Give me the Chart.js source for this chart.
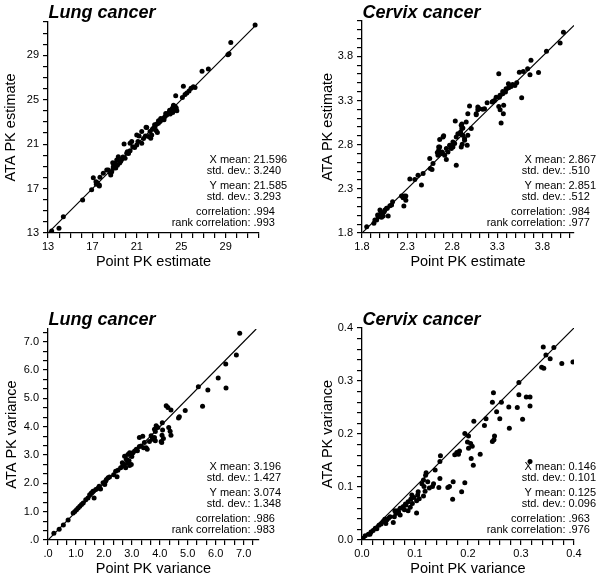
<!DOCTYPE html>
<html>
<head>
<meta charset="utf-8">
<script src="https://cdn.jsdelivr.net/npm/chart.js@4.4.1/dist/chart.umd.min.js"></script>
<style>
    html, body { margin: 0; padding: 0; background: #fff; }
    #wrap { position: relative; width: 600px; height: 579px; }
    #wrap canvas { position: absolute; }
</style>
</head>
<body>
<div id="wrap">
    <canvas id="lungEst" width="300" height="290" style="left:0;top:0"></canvas>
    <canvas id="cervixEst" width="300" height="290" style="left:300px;top:0"></canvas>
    <canvas id="lungVar" width="300" height="289" style="left:0;top:290px"></canvas>
    <canvas id="cervixVar" width="300" height="289" style="left:300px;top:290px"></canvas>
</div>
<script>
// --- 資料 (從圖上讀出的估計值) ---

// Lung cancer: point PK estimate (x) vs ATA PK estimate (y)
const lungEstX = [31.65, 29.46, 29.30, 29.20, 27.44, 26.87, 25.19, 26.09, 25.88, 26.24, 25.70, 25.50, 25.34, 25.10, 24.50,
    24.30, 24.35, 24.23, 24.00, 24.20, 23.84, 23.69, 23.54, 23.39, 23.24, 23.09, 22.94, 22.79, 22.64, 22.49,
    22.73, 22.85, 22.34, 22.19, 22.04, 21.89, 21.77, 22.25, 21.44, 21.44, 21.83, 20.99, 20.63, 19.85, 20.39,
    20.09, 19.94, 19.64, 19.33, 19.19, 19.04, 18.88, 18.83, 18.74, 18.65, 18.29, 17.98, 17.44, 17.08, 17.62,
    16.93, 16.12, 14.38, 13.99, 13.33, 20.99, 21.20, 20.54, 20.39, 20.14, 19.55, 19.25, 18.88, 18.60, 18.43,
    17.68, 17.62, 17.35, 17.32, 23.95, 24.45, 24.55, 23.60, 23.15, 22.95, 23.45, 22.60, 22.40, 21.60, 21.10,
    20.80, 20.25, 19.75, 19.45, 19.10, 18.95, 24.60, 24.40];
const lungEstY = [31.72, 30.16, 29.15, 29.05, 27.76, 27.57, 26.21, 26.18, 26.04, 26.10, 25.79, 25.60, 25.48, 25.20, 25.35,
    24.50, 24.10, 23.84, 23.72, 24.23, 23.81, 23.63, 23.48, 23.33, 23.18, 23.03, 22.88, 22.82, 22.58, 22.43,
    22.22, 22.04, 21.83, 22.13, 21.68, 22.49, 21.74, 21.53, 21.08, 22.13, 22.52, 20.93, 20.77, 21.02, 20.41,
    20.18, 19.73, 19.64, 19.87, 19.58, 19.28, 18.97, 19.33, 18.52, 18.23, 18.68, 18.38, 17.53, 17.98, 17.32,
    16.90, 15.97, 14.47, 13.42, 13.18, 21.83, 21.74, 21.23, 21.08, 20.32, 19.45, 19.10, 18.83, 18.45, 18.68,
    18.02, 17.23, 17.40, 17.62, 24.05, 24.40, 24.25, 23.75, 23.30, 23.10, 23.20, 22.75, 22.35, 21.50, 21.25,
    20.70, 20.15, 19.85, 19.30, 18.85, 19.15, 24.00, 24.30];

// Cervix cancer: point PK estimate (x) vs ATA PK estimate (y)
const cervixEstX = [4.033, 3.996, 3.845, 3.757, 3.673, 3.662, 3.636, 3.588, 3.544, 3.570, 3.515, 3.495, 3.470, 3.452, 3.426,
    3.423, 3.397, 3.390, 3.360, 3.360, 3.323, 3.330, 3.316, 3.331, 3.367, 3.370, 3.342, 3.316, 3.287, 3.268,
    3.250, 3.243, 3.187, 3.158, 3.139, 3.102, 3.084, 3.084, 3.066, 3.066, 2.992, 2.973, 3.011, 2.955, 2.918,
    2.882, 2.845, 2.808, 2.771, 2.735, 2.834, 2.907, 2.705, 2.661, 2.937, 2.911, 2.966, 2.900, 2.661, 2.654,
    2.680, 2.642, 2.735, 2.845, 2.551, 2.587, 2.558, 2.477, 2.459, 2.421, 2.385, 2.330, 2.286, 2.256, 2.286,
    2.264, 2.139, 2.109, 2.080, 2.054, 2.090, 1.999, 1.992, 1.980, 1.962, 1.932, 1.852, 2.900, 2.907, 2.893,
    2.863, 2.918, 2.937, 2.973, 2.827, 2.808, 2.790, 2.753, 2.716, 2.650, 2.650, 2.635, 2.687, 2.698, 2.576,
    2.267, 2.238, 2.128, 2.072, 2.046, 2.017, 1.999, 1.973, 1.943, 2.017, 2.035, 2.010, 2.025];
const cervixEstY = [4.072, 3.952, 3.858, 3.617, 3.757, 3.592, 3.659, 3.628, 3.620, 3.330, 3.500, 3.470, 3.480, 3.459, 3.444,
    3.490, 3.433, 3.395, 3.377, 3.403, 3.338, 3.360, 3.603, 3.196, 3.151, 3.245, 3.045, 3.233, 3.338, 3.301,
    3.290, 3.282, 3.275, 3.207, 3.200, 3.207, 3.226, 3.196, 3.151, 3.140, 3.238, 3.151, 2.982, 3.056, 2.989,
    2.925, 2.887, 2.831, 2.793, 2.756, 3.068, 3.034, 2.900, 2.859, 2.850, 2.805, 2.793, 2.774, 2.774, 2.717,
    2.700, 2.680, 2.632, 2.567, 2.643, 2.587, 2.530, 2.474, 2.342, 2.455, 2.406, 2.410, 2.218, 2.198, 2.172,
    2.105, 2.153, 2.108, 2.079, 2.060, 1.992, 2.060, 2.003, 1.984, 1.947, 1.909, 1.871, 3.019, 2.982, 2.944,
    2.925, 2.906, 2.869, 2.906, 2.812, 2.774, 2.756, 2.717, 2.680, 2.774, 2.737, 2.711, 2.717, 2.887, 2.519,
    2.218, 2.218, 2.116, 2.079, 2.040, 2.022, 1.984, 2.003, 1.947, 1.977, 1.992, 2.030, 2.005];

// Lung cancer: point PK variance (x) vs ATA PK variance (y)
const lungVarX = [6.86, 6.74, 6.36, 6.09, 6.37, 5.72, 5.38, 5.53, 4.91, 4.70, 4.67, 4.23, 4.29, 4.40, 4.09,
    3.93, 3.87, 3.81, 3.84, 4.32, 4.37, 4.40, 4.10, 4.08, 4.05, 4.13, 4.07, 3.81, 3.73, 3.84,
    3.63, 3.69, 3.39, 3.27, 3.45, 3.33, 3.42, 3.51, 3.55, 3.27, 3.16, 3.10, 3.04, 2.98, 2.92,
    2.86, 2.74, 2.80, 2.86, 2.92, 2.98, 2.74, 2.68, 2.78, 2.66, 2.50, 2.42, 2.47, 2.15, 2.09,
    2.06, 1.97, 2.03, 1.83, 1.79, 1.71, 1.61, 1.55, 1.49, 1.65, 1.43, 1.35, 1.26, 1.20, 1.14,
    1.08, 1.02, 0.96, 0.90, 0.72, 0.55, 0.40, 0.21, 3.00, 2.90, 3.20, 2.60, 2.35, 1.88, 2.20];
const lungVarY = [7.30, 6.53, 6.21, 5.72, 5.37, 5.30, 5.41, 4.72, 4.57, 4.35, 4.31, 4.74, 4.68, 4.59, 4.14,
    3.97, 4.03, 3.91, 3.83, 3.97, 3.84, 3.70, 3.88, 3.70, 3.48, 3.58, 3.44, 3.62, 3.56, 3.50,
    3.48, 3.68, 3.66, 3.62, 3.44, 3.32, 3.26, 3.26, 3.20, 3.30, 3.20, 3.14, 3.08, 3.06, 3.08,
    3.02, 2.96, 2.85, 2.73, 2.63, 2.67, 2.67, 2.61, 2.55, 2.73, 2.46, 2.43, 2.23, 2.20, 2.14,
    2.07, 2.02, 1.96, 1.90, 1.83, 1.78, 1.72, 1.66, 1.60, 1.48, 1.48, 1.42, 1.31, 1.25, 1.19,
    1.13, 1.07, 1.01, 0.95, 0.71, 0.53, 0.38, 0.24, 2.95, 2.80, 3.15, 2.55, 2.30, 1.80, 2.22];

// Cervix cancer: point PK variance (x) vs ATA PK variance (y)
const cervixVarX = [0.398, 0.377, 0.362, 0.342, 0.347, 0.355, 0.339, 0.343, 0.296, 0.317, 0.296, 0.310, 0.317, 0.293, 0.303,
    0.277, 0.278, 0.317, 0.248, 0.246, 0.263, 0.254, 0.260, 0.234, 0.231, 0.250, 0.249, 0.246, 0.223, 0.211,
    0.194, 0.201, 0.205, 0.208, 0.201, 0.199, 0.206, 0.210, 0.179, 0.182, 0.175, 0.184, 0.172, 0.171, 0.188,
    0.194, 0.165, 0.162, 0.148, 0.147, 0.147, 0.145, 0.138, 0.135, 0.133, 0.127, 0.121, 0.120, 0.124, 0.116,
    0.113, 0.117, 0.119, 0.116, 0.106, 0.105, 0.108, 0.103, 0.103, 0.094, 0.092, 0.087, 0.082, 0.078, 0.095,
    0.091, 0.087, 0.080, 0.072, 0.067, 0.064, 0.072, 0.061, 0.059, 0.050, 0.047, 0.045, 0.040, 0.036, 0.032,
    0.069, 0.062, 0.053, 0.043, 0.028, 0.025, 0.021, 0.017, 0.015, 0.012, 0.006, 0.002, 0.083, 0.076, 0.098];
const cervixVarY = [0.336, 0.333, 0.363, 0.364, 0.349, 0.342, 0.326, 0.324, 0.297, 0.270, 0.274, 0.270, 0.253, 0.250, 0.228,
    0.251, 0.211, 0.148, 0.278, 0.260, 0.260, 0.242, 0.229, 0.229, 0.216, 0.196, 0.189, 0.186, 0.162, 0.224,
    0.201, 0.196, 0.182, 0.177, 0.173, 0.185, 0.154, 0.141, 0.165, 0.162, 0.161, 0.168, 0.110, 0.077, 0.091,
    0.108, 0.101, 0.099, 0.159, 0.148, 0.116, 0.099, 0.132, 0.106, 0.101, 0.098, 0.127, 0.122, 0.110, 0.113,
    0.106, 0.101, 0.092, 0.083, 0.091, 0.085, 0.078, 0.074, 0.051, 0.085, 0.077, 0.072, 0.068, 0.063, 0.069,
    0.062, 0.055, 0.057, 0.060, 0.055, 0.050, 0.047, 0.044, 0.033, 0.041, 0.038, 0.031, 0.035, 0.030, 0.028,
    0.053, 0.055, 0.044, 0.039, 0.021, 0.022, 0.018, 0.015, 0.011, 0.011, 0.008, 0.003, 0.066, 0.061, 0.080];

// 刻度標籤
const lungEstTicks = [13, 17, 21, 25, 29];
const lungEstTickLabels = ['13', '17', '21', '25', '29'];
const cervixEstTicks = [1.8, 2.3, 2.8, 3.3, 3.8];
const cervixEstTickLabels = ['1.8', '2.3', '2.8', '3.3', '3.8'];
const lungVarTicks = [0, 1, 2, 3, 4, 5, 6, 7];
const lungVarTickLabels = ['.0', '1.0', '2.0', '3.0', '4.0', '5.0', '6.0', '7.0'];
const cervixVarTicks = [0, 0.1, 0.2, 0.3, 0.4];
const cervixVarTickLabels = ['0.0', '0.1', '0.2', '0.3', '0.4'];

// 統計文字
const statLabels = ['X mean:', 'std. dev.:', 'Y mean:', 'std. dev.:', 'correlation:', 'rank correlation:'];
const lungEstStats = ['21.596', '3.240', '21.585', '3.293', '.994', '.993'];
const cervixEstStats = ['2.867', '.510', '2.851', '.512', '.984', '.977'];
const lungVarStats = ['3.196', '1.427', '3.074', '1.348', '.986', '.983'];
const cervixVarStats = ['0.146', '0.101', '0.125', '0.096', '.963', '.976'];

document.addEventListener('DOMContentLoaded', function () {

    const FONT = "'Liberation Sans', Arial, Helvetica, sans-serif";
    Chart.defaults.font.family = FONT;
    Chart.defaults.color = '#000';

    // 次刻度位置 (含主刻度)
    const minorTicks = (min, max, step) => {
        const out = [];
        for (let i = 0; ; i++) {
            const v = Math.round((min + i * step) * 1e6) / 1e6;
            if (v > max + 1e-9) break;
            out.push(v);
        }
        return out;
    };

    const axis = (min, max, majors, labels, step, isY, size) => ({
        type: 'linear',
        position: isY ? 'left' : 'bottom',
        min: min,
        max: max,
        grid: { drawOnChartArea: false, drawTicks: true, tickLength: 5, color: '#000', lineWidth: 1.2 },
        border: { display: true, color: '#000', width: 1.3 },
        ticks: {
            autoSkip: false,
            maxRotation: 0,
            padding: isY ? 4 : 2,
            color: '#000',
            font: { size: 11 },
            callback: (value) => {
                const i = majors.findIndex(m => Math.abs(m - value) < 1e-6);
                return i >= 0 ? labels[i] : '';
            }
        },
        afterBuildTicks: (scale) => {
            scale.ticks = minorTicks(min, max, step).map(v => ({ value: v }));
        },
        afterFit: (scale) => {
            if (isY) scale.width = size; else scale.height = size;
        }
    });

    // 標題、軸標題與統計文字
    const panelText = {
        id: 'panelText',
        afterDraw(chart, args, o) {
            const { ctx, chartArea: a } = chart;
            ctx.save();
            ctx.fillStyle = '#000';
            ctx.textBaseline = 'alphabetic';

            ctx.font = 'italic bold 18px ' + FONT;
            ctx.textAlign = 'left';
            ctx.fillText(o.title, a.left + 0.5, a.top - o.titleGap);

            ctx.font = '14.5px ' + FONT;
            ctx.textAlign = 'center';
            ctx.fillText(o.xTitle, (a.left + a.right) / 2, a.bottom + 33);
            ctx.save();
            ctx.translate(a.left - o.yTitleGap, (a.top + a.bottom) / 2);
            ctx.rotate(-Math.PI / 2);
            ctx.fillText(o.yTitle, 0, 0);
            ctx.restore();

            ctx.font = '11px ' + FONT;
            const offsets = [-70, -59.5, -44.5, -33.5, -18, -7];
            const vx = a.right - 5.5;
            statLabels.forEach((lab, i) => {
                const y = a.bottom + offsets[i];
                ctx.textAlign = 'right';
                ctx.fillText(lab, vx - 3, y);
                ctx.textAlign = 'left';
                ctx.fillText(o.stats[i], vx, y);
            });
            ctx.restore();
        }
    };

    const makePanel = (p) => {
        const points = p.xs.map((x, i) => ({ x: x, y: p.ys[i] }));
        new Chart(document.getElementById(p.id), {
            type: 'scatter',
            data: {
                datasets: [
                    {
                        data: points,
                        pointRadius: 2.5,
                        pointBackgroundColor: '#000',
                        pointBorderWidth: 0,
                        showLine: false
                    },
                    {
                        data: [{ x: p.line[0], y: p.line[0] }, { x: p.line[1], y: p.line[1] }],
                        showLine: true,
                        borderColor: '#000',
                        borderWidth: 1.2,
                        pointRadius: 0,
                        fill: false
                    }
                ]
            },
            options: {
                responsive: false,
                animation: false,
                events: [],
                layout: { padding: { left: 0, top: p.area.top, right: p.canvasW - p.area.right, bottom: 0 } },
                scales: {
                    x: axis(p.xRange[0], p.xRange[1], p.ticks, p.tickLabels, p.step, false, p.canvasH - p.area.bottom),
                    y: axis(p.yRange[0], p.yRange[1], p.ticks, p.tickLabels, p.step, true, p.area.left)
                },
                plugins: {
                    legend: { display: false },
                    tooltip: { enabled: false },
                    panelText: {
                        title: p.title, xTitle: p.xTitle, yTitle: p.yTitle, stats: p.stats,
                        titleGap: p.titleGap, yTitleGap: p.yTitleGap
                    }
                }
            },
            plugins: [panelText]
        });
    };

    makePanel({
        id: 'lungEst', xs: lungEstX, ys: lungEstY, xRange: [13, 32], yRange: [13, 32], line: [13, 31.7],
        ticks: lungEstTicks, tickLabels: lungEstTickLabels, step: 1, stats: lungEstStats,
        title: 'Lung cancer', xTitle: 'Point PK estimate', yTitle: 'ATA PK estimate',
        canvasW: 300, canvasH: 290, area: { left: 48, top: 22, right: 259, bottom: 233 }, titleGap: 4, yTitleGap: 33
    });
    makePanel({
        id: 'cervixEst', xs: cervixEstX, ys: cervixEstY, xRange: [1.8, 4.15], yRange: [1.8, 4.2], line: [1.8, 4.15],
        ticks: cervixEstTicks, tickLabels: cervixEstTickLabels, step: 0.1, stats: cervixEstStats,
        title: 'Cervix cancer', xTitle: 'Point PK estimate', yTitle: 'ATA PK estimate',
        canvasW: 300, canvasH: 290, area: { left: 62, top: 21, right: 274, bottom: 233 }, titleGap: 3, yTitleGap: 30
    });
    makePanel({
        id: 'lungVar', xs: lungVarX, ys: lungVarY, xRange: [0, 7.55], yRange: [0, 7.45], line: [0, 7.45],
        ticks: lungVarTicks, tickLabels: lungVarTickLabels, step: 1 / 3, stats: lungVarStats,
        title: 'Lung cancer', xTitle: 'Point PK variance', yTitle: 'ATA PK variance',
        canvasW: 300, canvasH: 289, area: { left: 48, top: 39, right: 259, bottom: 250 }, titleGap: 4, yTitleGap: 32
    });
    makePanel({
        id: 'cervixVar', xs: cervixVarX, ys: cervixVarY, xRange: [0, 0.4], yRange: [0, 0.4], line: [0, 0.4],
        ticks: cervixVarTicks, tickLabels: cervixVarTickLabels, step: 0.02, stats: cervixVarStats,
        title: 'Cervix cancer', xTitle: 'Point PK variance', yTitle: 'ATA PK variance',
        canvasW: 300, canvasH: 289, area: { left: 62, top: 38, right: 274, bottom: 250 }, titleGap: 3, yTitleGap: 30
    });
});
</script>
</body>
</html>
